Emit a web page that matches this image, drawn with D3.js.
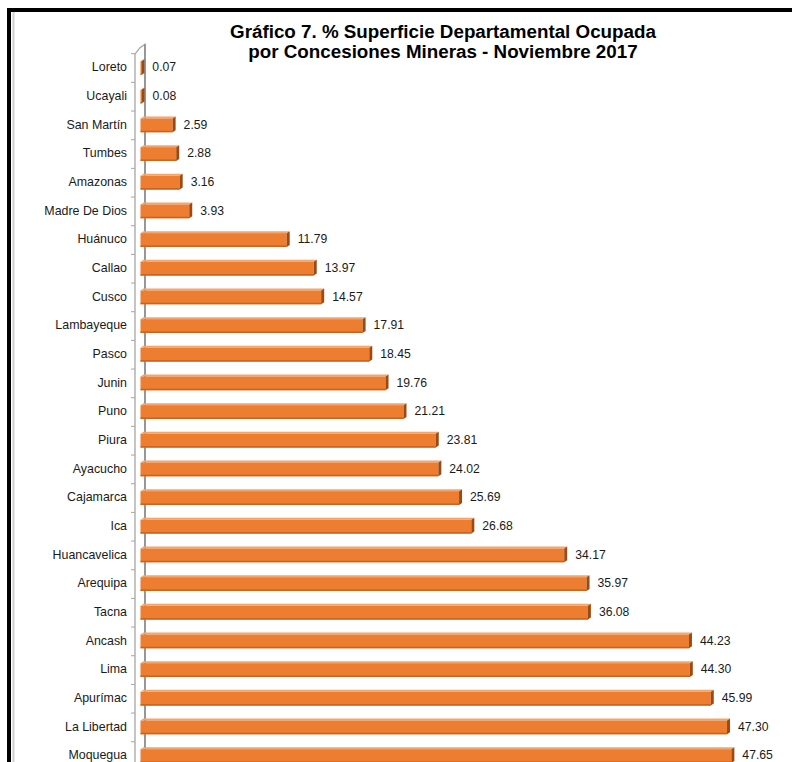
<!DOCTYPE html>
<html>
<head>
<meta charset="utf-8">
<script src="https://cdn.jsdelivr.net/npm/d3@7"></script>
<style>
  html, body { margin: 0; padding: 0; background: #fff; }
  svg { display: block; font-family: "Liberation Sans", Arial, sans-serif; }
</style>
</head>
<body>
<svg id="chart" width="792" height="762"></svg>
<script>
// departamentos, de arriba hacia abajo
var departamentos = ["Loreto", "Ucayali", "San Martín", "Tumbes", "Amazonas", "Madre De Dios",
    "Huánuco", "Callao", "Cusco", "Lambayeque", "Pasco", "Junin", "Puno", "Piura", "Ayacucho",
    "Cajamarca", "Ica", "Huancavelica", "Arequipa", "Tacna", "Ancash", "Lima", "Apurímac",
    "La Libertad", "Moquegua"];
var porcentajes = [0.07, 0.08, 2.59, 2.88, 3.16, 3.93, 11.79, 13.97, 14.57, 17.91, 18.45, 19.76,
    21.21, 23.81, 24.02, 25.69, 26.68, 34.17, 35.97, 36.08, 44.23, 44.30, 45.99, 47.30, 47.65];
var titulo = ["Gráfico 7. % Superficie Departamental Ocupada",
    "por Concesiones Mineras - Noviembre 2017"];

var svg = d3.select("#chart");

var x = d3.scaleLinear().domain([0, 50]).range([140.5, 760.5]);
var y = d3.scaleBand().domain(departamentos).range([53.7, 770.4])
    .paddingInner(0.52).paddingOuter(0.26);

var DEPTH = 3;

// marco
svg.append("line").attr("x1", 13.5).attr("y1", 12).attr("x2", 13.5).attr("y2", 762)
    .attr("stroke", "#cfcfcf").attr("stroke-width", 2);
svg.append("path").attr("d", "M9,762 L9,10 L792,10")
    .attr("fill", "none").attr("stroke", "#000").attr("stroke-width", 4);

// titulo
svg.append("g").selectAll("text").data(titulo).enter().append("text")
    .attr("x", 443)
    .attr("y", function (d, i) { return 38 + i * 19.5; })
    .attr("text-anchor", "middle")
    .attr("font-size", "18.8")
    .attr("font-weight", "bold")
    .attr("fill", "#000")
    .text(function (d) { return d; });

// pared del eje (3D)
var yTop = y.range()[0], yBot = y.range()[1];
var gWall = svg.append("g");
gWall.append("path")
    .attr("d", "M135," + yBot + " L135," + (yTop + 0.5) + " L140," + (yTop - 6) +
        " L145," + (yTop - 9.5) + " L145," + yBot)
    .attr("fill", "#fff").attr("stroke", "#a6a6a6").attr("stroke-width", 1.3);
gWall.append("line").attr("x1", 145).attr("y1", yTop - 9.5).attr("x2", 145).attr("y2", yBot)
    .attr("stroke", "#7f7f7f").attr("stroke-width", 1.3);
gWall.selectAll(".tick").data(d3.range(departamentos.length + 1)).enter().append("line")
    .attr("x1", 131).attr("x2", 135)
    .attr("y1", function (i) { return yTop + i * y.step(); })
    .attr("y2", function (i) { return yTop + i * y.step(); })
    .attr("stroke", "#a6a6a6").attr("stroke-width", 1);

// etiquetas de categoria
svg.append("g").selectAll("text").data(departamentos).enter().append("text")
    .attr("x", 127)
    .attr("y", function (d) { return y(d) + y.bandwidth() / 2; })
    .attr("dominant-baseline", "middle")
    .attr("text-anchor", "end")
    .attr("font-size", "12.4")
    .attr("fill", "#1a1a1a")
    .text(function (d) { return d; });

// barras
var datos = departamentos.map(function (d, i) { return { dep: d, val: porcentajes[i] }; });
var gBar = svg.append("g").selectAll("g").data(datos).enter().append("g");

gBar.append("path")
    .attr("d", function (d) {
        var x0 = x(0), x1 = x(d.val), t = y(d.dep);
        return "M" + x0 + "," + t + " L" + (x0 + DEPTH) + "," + (t - DEPTH + 1) +
            " L" + (x1 + DEPTH) + "," + (t - DEPTH + 1) + " L" + x1 + "," + t + "Z";
    })
    .attr("fill", "#f4a56d");

gBar.append("rect")
    .attr("x", x(0))
    .attr("y", function (d) { return y(d.dep); })
    .attr("width", function (d) { return x(d.val) - x(0); })
    .attr("height", y.bandwidth())
    .attr("fill", "#ed7d31");

gBar.append("rect")
    .attr("x", x(0))
    .attr("y", function (d) { return y(d.dep) + y.bandwidth() - 1.5; })
    .attr("width", function (d) { return x(d.val) - x(0); })
    .attr("height", 1.5)
    .attr("fill", "#c9621f");

gBar.append("path")
    .attr("d", function (d) {
        var x1 = x(d.val), t = y(d.dep), b = t + y.bandwidth();
        return "M" + x1 + "," + t + " L" + (x1 + DEPTH) + "," + (t - DEPTH + 1) +
            " L" + (x1 + DEPTH) + "," + (b - DEPTH + 1) + " L" + x1 + "," + b + "Z";
    })
    .attr("fill", "#9c4a14");

// valores
svg.append("g").selectAll("text").data(datos).enter().append("text")
    .attr("x", function (d) { return x(d.val) + 11; })
    .attr("y", function (d) { return y(d.dep) + y.bandwidth() / 2; })
    .attr("dominant-baseline", "middle")
    .attr("font-size", "12.2")
    .attr("fill", "#1a1a1a")
    .text(function (d) { return d.val.toFixed(2); });
</script>
</body>
</html>
